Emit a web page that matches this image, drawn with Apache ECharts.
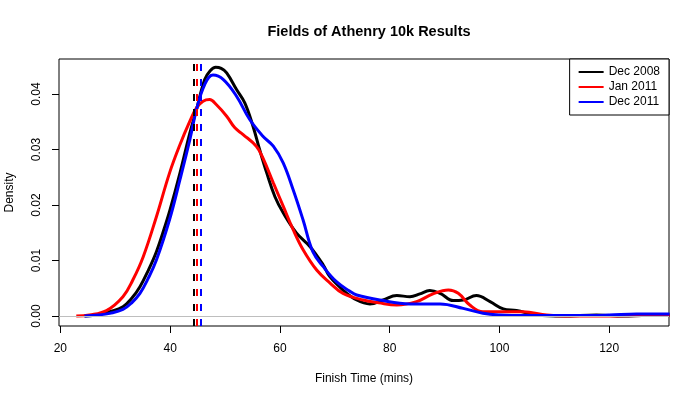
<!DOCTYPE html>
<html>
<head>
<meta charset="utf-8">
<title>Fields of Athenry 10k Results</title>
<script src="https://cdn.jsdelivr.net/npm/echarts@6/dist/echarts.min.js"></script>
<style>
  html, body { margin: 0; padding: 0; background: #fff; }
  #chart { width: 700px; height: 400px; }
</style>
</head>
<body>
<div id="chart"></div>
<script>
// density curves, [finish time, density]
var dec2008X = [24.4, 27, 29, 31.4, 33, 34.5, 36, 37.5, 39, 40, 41.8, 43.6, 44.8, 46.3, 47.3, 48.3, 49.3, 50.3, 52.1, 53.6, 55.1, 56.3, 57.6, 59.1, 60.6, 63, 65.5, 67.9, 69.1, 71.5, 74, 76.4, 78.8, 81.3, 83.7, 85.5, 87.3, 89.2, 91.6, 93.4, 95.8, 98.3, 100.7, 103.1, 106.8, 111.6, 117.7, 122.6, 126, 131];
var dec2008Y = [0, 0.0003, 0.0008, 0.0017, 0.0032, 0.0053, 0.0082, 0.0116, 0.0160, 0.0192, 0.0258, 0.0330, 0.0372, 0.0426, 0.0442, 0.0448, 0.0446, 0.0438, 0.0408, 0.0384, 0.0342, 0.0300, 0.0258, 0.0215, 0.0186, 0.0150, 0.0125, 0.0092, 0.0071, 0.0047, 0.0029, 0.0022, 0.0029, 0.0037, 0.0035, 0.0040, 0.0046, 0.0041, 0.0028, 0.0029, 0.0037, 0.0026, 0.0013, 0.0010, 0.0002, 0, 0.0002, 0, 0.0001, 0.0002];

var jan2011X = [22.9, 25.3, 28.4, 31.4, 33.2, 35.1, 37.5, 39.9, 41.8, 43.6, 44.8, 46, 47.2, 48.4, 50.3, 51.8, 53.3, 55.7, 56.9, 58.8, 60.6, 62.4, 64.2, 66.7, 69.1, 71.5, 75.2, 78, 81.3, 84.9, 87.9, 90.7, 92.5, 94.6, 97, 100.7, 104.3, 108.6, 112, 120, 126, 131];
var jan2011Y = [0, 0.0002, 0.0010, 0.0035, 0.0065, 0.0107, 0.0179, 0.0258, 0.0309, 0.0351, 0.0375, 0.0387, 0.0390, 0.0381, 0.0360, 0.0339, 0.0327, 0.0306, 0.0285, 0.0240, 0.0198, 0.0156, 0.0120, 0.0083, 0.0060, 0.0041, 0.0029, 0.0024, 0.0020, 0.0026, 0.0040, 0.0047, 0.0041, 0.0020, 0.0008, 0.0008, 0.0008, 0.0002, 0, 0, 0.0001, 0.0001];

var dec2011X = [24.4, 27, 29, 31.4, 33, 34.5, 36, 37.5, 39.9, 41.8, 43.6, 44.8, 46.3, 47.8, 49.7, 52.1, 54.5, 56.9, 58.8, 60.6, 62.4, 64.2, 66, 67.9, 70.3, 72.7, 74, 78.2, 83.7, 89.2, 93.4, 97, 100, 105, 115, 120, 125, 131];
var dec2011Y = [0, 0.0002, 0.0005, 0.0012, 0.0024, 0.0041, 0.0068, 0.0101, 0.0174, 0.0246, 0.0318, 0.0372, 0.0417, 0.0434, 0.0426, 0.0396, 0.0354, 0.0324, 0.0306, 0.0276, 0.0228, 0.0174, 0.0116, 0.0089, 0.0062, 0.0045, 0.0038, 0.0029, 0.0022, 0.0022, 0.0014, 0.0005, 0.0002, 0.0001, 0.0001, 0.0002, 0.0004, 0.0004];

// medians (dashed vertical lines)
var medians = [44.3, 44.9, 45.6];

var seriesNames = ['Dec 2008', 'Jan 2011', 'Dec 2011'];
var seriesColors = ['#000000', '#ff0000', '#0000ff'];

var xTicks = [20, 40, 60, 80, 100, 120];
var yTicks = [0, 0.01, 0.02, 0.03, 0.04];

function pairs(xs, ys) {
    var out = [];
    for (var i = 0; i < xs.length; i++) out.push([xs[i], ys[i]]);
    return out;
}

var curves = [pairs(dec2008X, dec2008Y), pairs(jan2011X, jan2011Y), pairs(dec2011X, dec2011Y)];

var chart = echarts.init(document.getElementById('chart'));
var font = 'Liberation Sans, Arial, sans-serif';

var series = [];
// grey zero line
series.push({
    type: 'line',
    data: [],
    silent: true,
    markLine: {
        silent: true,
        symbol: 'none',
        label: {show: false},
        lineStyle: {color: '#bebebe', width: 1, type: 'solid'},
        data: [{yAxis: 0}]
    }
});
for (var i = 0; i < 3; i++) {
    series.push({
        name: seriesNames[i],
        type: 'line',
        data: curves[i],
        smooth: 0.4,
        showSymbol: false,
        lineStyle: {color: seriesColors[i], width: 3},
        itemStyle: {color: seriesColors[i]},
        z: 3
    });
}
// dashed median lines on top
for (var j = 0; j < 3; j++) {
    series.push({
        type: 'line',
        data: [],
        silent: true,
        z: 4,
        markLine: {
            silent: true,
            symbol: 'none',
            label: {show: false},
            lineStyle: {color: seriesColors[j], width: 2, type: [7, 8], cap: 'butt'},
            data: [{xAxis: medians[j]}]
        }
    });
}

var option = {
    animation: false,
    backgroundColor: '#ffffff',
    title: {
        text: 'Fields of Athenry 10k Results',
        left: 364,
        top: 19,
        textAlign: 'center',
        textStyle: {fontFamily: font, fontSize: 14.5, fontWeight: 'bold', color: '#000'}
    },
    legend: {
        data: seriesNames,
        orient: 'vertical',
        right: 31,
        top: 59,
        icon: 'rect',
        itemWidth: 25,
        itemHeight: 2,
        itemGap: 3,
        padding: [7, 9, 7, 9],
        borderColor: '#000',
        borderWidth: 1,
        backgroundColor: '#fff',
        textStyle: {fontFamily: font, fontSize: 12, color: '#000'}
    },
    grid: {
        left: 59,
        right: 31,
        top: 59,
        bottom: 74,
        outerBoundsMode: 'none',
        containLabel: false,
        show: true,
        borderColor: '#000',
        borderWidth: 1,
        backgroundColor: 'transparent'
    },
    xAxis: {
        type: 'value',
        min: 19.75,
        max: 130.9,
        name: 'Finish Time (mins)',
        nameLocation: 'middle',
        nameGap: 47,
        nameTextStyle: {fontFamily: font, fontSize: 12, color: '#000'},
        axisLine: {show: false, onZero: false},
        splitLine: {show: false},
        axisTick: {show: true, length: 7, customValues: xTicks, lineStyle: {color: '#000'}},
        axisLabel: {
            customValues: xTicks,
            margin: 17,
            fontFamily: font,
            fontSize: 12,
            color: '#000'
        }
    },
    yAxis: {
        type: 'value',
        min: -0.00178,
        max: 0.0463,
        name: 'Density',
        nameLocation: 'middle',
        nameGap: 43,
        nameTextStyle: {fontFamily: font, fontSize: 12, color: '#000'},
        axisLine: {show: false, onZero: false},
        splitLine: {show: false},
        axisTick: {show: true, length: 7, customValues: yTicks, lineStyle: {color: '#000'}},
        axisLabel: {
            customValues: yTicks,
            rotate: 90,
            margin: 16,
            fontFamily: font,
            fontSize: 12,
            color: '#000',
            formatter: function (v) { return v.toFixed(2); }
        }
    },
    series: series
};

chart.setOption(option);
</script>
</body>
</html>
